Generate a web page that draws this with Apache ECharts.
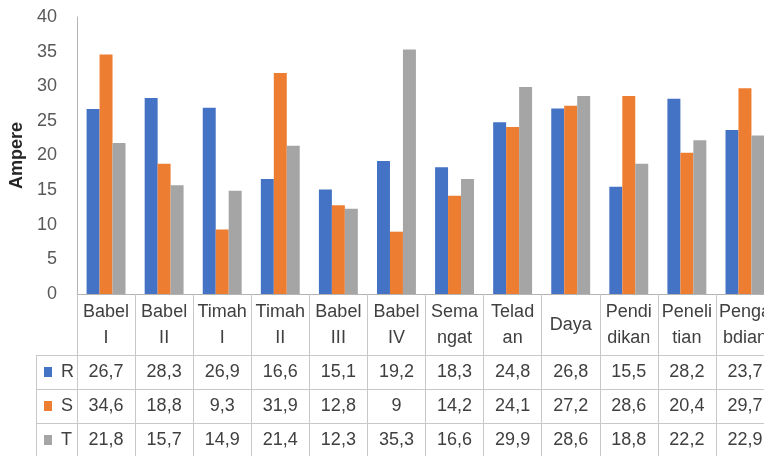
<!DOCTYPE html>
<html>
<head>
<meta charset="utf-8">
<style>
  html, body { margin: 0; padding: 0; background: #fff; }
  #chart { width: 764px; height: 456px; }
</style>
<script src="https://cdn.jsdelivr.net/npm/echarts@6/dist/echarts.min.js"></script>
</head>
<body>
<div id="chart"></div>
<script>
// Feeder load current per phase (Ampere)
const categories = ['Babel\nI', 'Babel\nII', 'Timah\nI', 'Timah\nII', 'Babel\nIII', 'Babel\nIV',
                    'Sema\nngat', 'Telad\nan', 'Daya', 'Pendi\ndikan', 'Peneli\ntian', 'Penga\nbdian'];
const phaseNames = ['R', 'S', 'T'];
const valuesR = [26.7, 28.3, 26.9, 16.6, 15.1, 19.2, 18.3, 24.8, 26.8, 15.5, 28.2, 23.7];
const valuesS = [34.6, 18.8, 9.3, 31.9, 12.8, 9, 14.2, 24.1, 27.2, 28.6, 20.4, 29.7];
const valuesT = [21.8, 15.7, 14.9, 21.4, 12.3, 35.3, 16.6, 29.9, 28.6, 18.8, 22.2, 22.9];
const yMin = 0, yMax = 40, yStep = 5;
const yTitle = 'Ampere';

const phaseValues = [valuesR, valuesS, valuesT];
const phaseColors = ['#4472C4', '#ED7D31', '#A5A5A5'];

// layout
const W = 764, H = 456;
const GRID = { left: 77, top: 17, width: 697, bottom: 162 };
const AXIS_Y = H - GRID.bottom;          // baseline of the plot
const HEADER_H = 61;                     // category row of the data table
const ROW_H = 34;                        // each value row
const LEGEND_LEFT = 36;
const FONT = '"Liberation Sans", Arial, sans-serif';
const TEXT = '#404040';
const TABLE_LINE = '#c8c8c8';

const fmt = v => String(v).replace('.', ',');

const xAxes = [{
  type: 'category',
  data: categories,
  position: 'bottom',
  axisLine: { show: true, lineStyle: { color: '#b4b4b4', width: 1 } },
  axisTick: { show: true, interval: 0, length: H - AXIS_Y, lineStyle: { color: TABLE_LINE } },
  axisLabel: {
    interval: 0, fontFamily: FONT, fontSize: 18, color: TEXT,
    lineHeight: 26, verticalAlign: 'middle', margin: HEADER_H / 2 + 1
  },
  splitLine: { show: false }
}];

phaseValues.forEach((vals, i) => {
  xAxes.push({
    type: 'category',
    data: categories,
    position: 'bottom',
    offset: HEADER_H + i * ROW_H,
    axisLine: { show: true, lineStyle: { color: TABLE_LINE, width: 1 } },
    axisTick: { show: false },
    axisLabel: {
      interval: 0, fontFamily: FONT, fontSize: 18, color: TEXT,
      verticalAlign: 'middle', margin: ROW_H / 2,
      formatter: (v, idx) => fmt(vals[idx])
    },
    splitLine: { show: false }
  });
});

// frame of the legend column at the left of the data table
const tableTop = AXIS_Y + HEADER_H;
const frame = [
  { type: 'line', shape: { x1: LEGEND_LEFT + 0.5, y1: tableTop, x2: LEGEND_LEFT + 0.5, y2: H } }
];
for (let i = 0; i < 3; i++) {
  const y = tableTop + i * ROW_H + 0.5;
  frame.push({ type: 'line', shape: { x1: LEGEND_LEFT, y1: y, x2: GRID.left, y2: y } });
}
frame.forEach(f => { f.style = { stroke: TABLE_LINE, lineWidth: 1 }; f.silent = true; });

const option = {
  animation: false,
  backgroundColor: '#fff',
  textStyle: { fontFamily: FONT },
  grid: {
    left: GRID.left, top: GRID.top, width: GRID.width, bottom: GRID.bottom,
    containLabel: false, outerBoundsMode: 'none'
  },
  legend: {
    orient: 'vertical',
    left: 44,
    top: tableTop + 7,
    padding: 0,
    itemWidth: 8,
    itemHeight: 10,
    itemGap: ROW_H - 20,
    icon: 'rect',
    selectedMode: false,
    data: phaseNames,
    textStyle: { fontFamily: FONT, fontSize: 18, color: TEXT, lineHeight: 20, padding: [0, 0, 0, 4] }
  },
  xAxis: xAxes,
  yAxis: {
    type: 'value',
    min: yMin, max: yMax, interval: yStep,
    name: yTitle,
    nameLocation: 'middle',
    nameRotate: 90,
    nameGap: 46,
    nameTextStyle: { fontFamily: FONT, fontSize: 18, fontWeight: 'bold', color: '#262626' },
    axisLine: { show: true, lineStyle: { color: '#b4b4b4', width: 1 } },
    axisTick: { show: false },
    axisLabel: { fontFamily: FONT, fontSize: 18, color: '#595959', margin: 20 },
    splitLine: { show: false }
  },
  series: phaseNames.map((name, i) => ({
    name,
    type: 'bar',
    xAxisIndex: 0,
    data: phaseValues[i],
    barGap: '0%',
    barCategoryGap: '33%',
    itemStyle: { color: phaseColors[i] }
  })),
  graphic: frame
};

const chart = echarts.init(document.getElementById('chart'), null, { renderer: 'canvas' });
chart.setOption(option);
</script>
</body>
</html>
